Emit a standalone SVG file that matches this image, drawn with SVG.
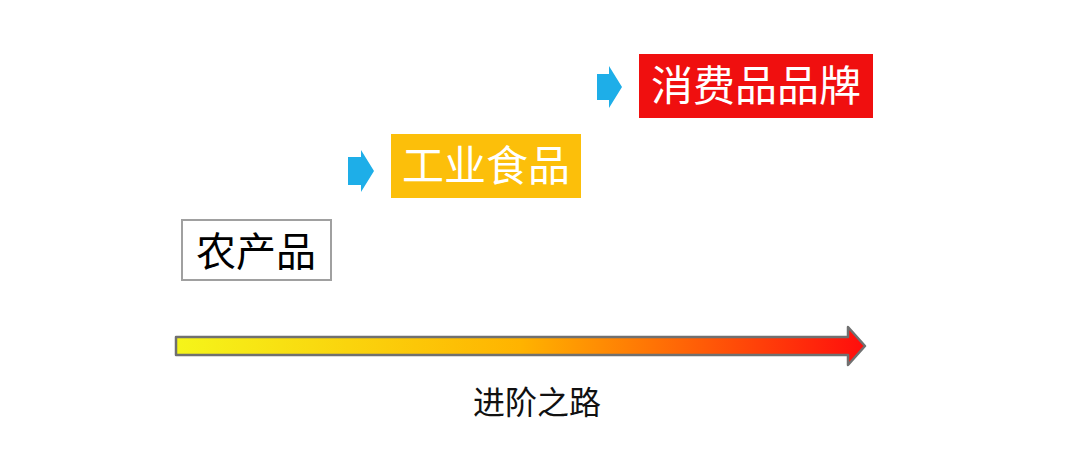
<svg xmlns="http://www.w3.org/2000/svg" width="1080" height="454" viewBox="0 0 1080 454">
<style>
text{font-family:"Noto Sans CJK SC","Noto Sans",sans-serif;}
.big{font-size:42px;fill:#fff;}
.blue{fill:#1eaee8;}
</style>
<defs>
<linearGradient id="g" x1="0" x2="1" y1="0" y2="0">
<stop offset="0" stop-color="#f5f51a"/>
<stop offset="0.5" stop-color="#ffb300"/>
<stop offset="1" stop-color="#ff0d0d"/>
</linearGradient>
</defs>
<rect width="1080" height="454" fill="#fff"/>
<g id="n1">
<rect x="182" y="220" width="149" height="60" fill="#fff" stroke="#a0a0a0" stroke-width="2"/>
<text x="256" y="266" font-size="40" text-anchor="middle" fill="#000">农产品</text>
</g>
<g id="n2">
<rect x="391" y="134" width="190" height="64" fill="#fcbf0a"/>
<text x="486" y="181" text-anchor="middle" class="big">工业食品</text>
</g>
<g id="n3">
<rect x="639" y="54" width="234" height="64" fill="#f00f0f"/>
<text x="756" y="101" text-anchor="middle" class="big">消费品品牌</text>
</g>
<g id="connectors">
<polygon class="blue" points="348,157 361,157 361,150 374,171 361,192 361,185 348,185"/>
<polygon class="blue" points="597,74 609,74 609,66 622,87 609,108 609,100 597,100"/>
<polygon points="176,337 848,337 848,327 865,346 848,365 848,355 176,355" fill="url(#g)" stroke="#707070" stroke-width="2.5" stroke-linejoin="round"/>
</g>
<text x="537" y="414" font-size="32" text-anchor="middle" fill="#111">进阶之路</text>
</svg>
